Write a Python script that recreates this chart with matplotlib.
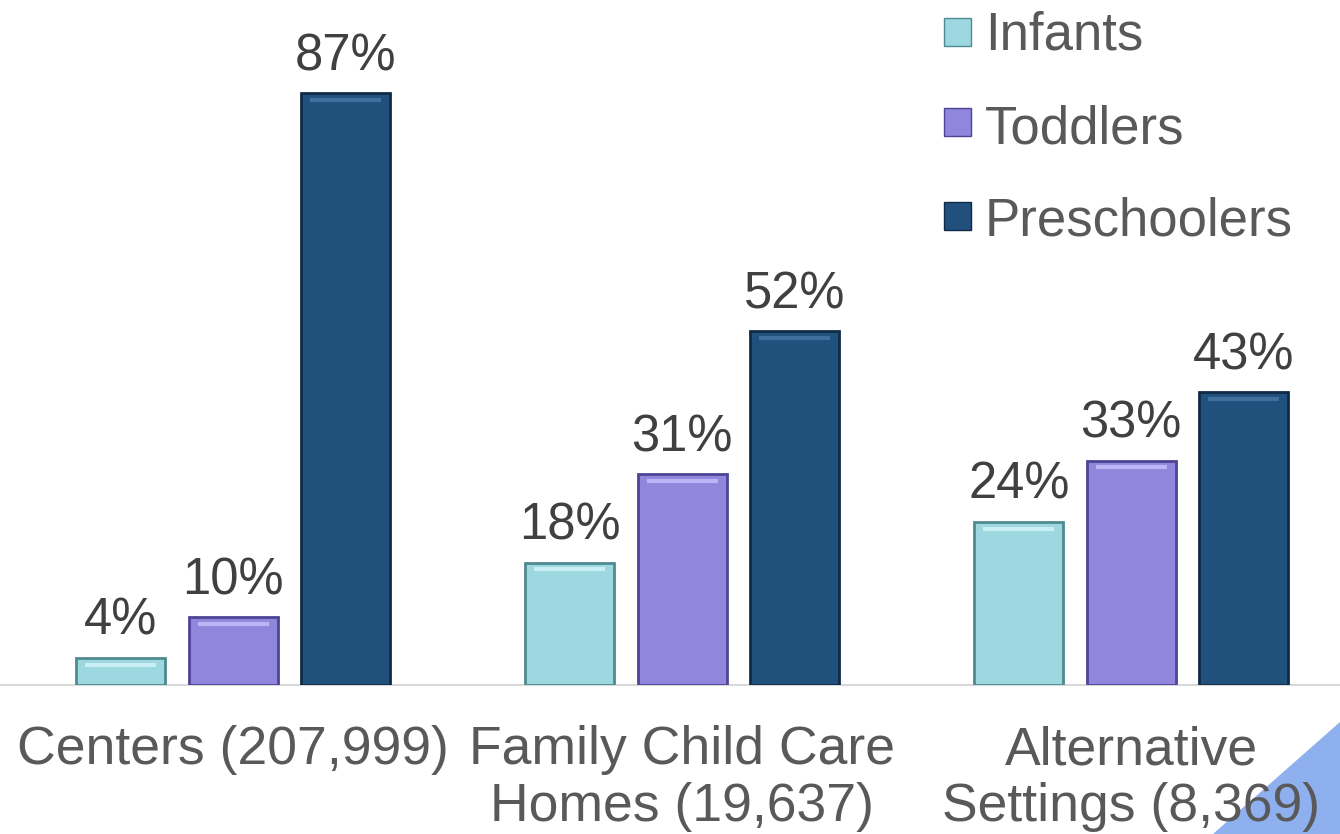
import numpy as np
import matplotlib.pyplot as plt
from matplotlib.patches import Rectangle, Polygon

# donnees
categories = ['Centers (207,999)', 'Family Child Care\nHomes (19,637)', 'Alternative\nSettings (8,369)']
series = ['Infants', 'Toddlers', 'Preschoolers']
infants = [4, 18, 24]
toddlers = [10, 31, 33]
preschoolers = [87, 52, 43]
valeurs = [infants, toddlers, preschoolers]

couleurs = ['#9dd7df', '#9087dd', '#22507c']
bords = ['#4f8a90', '#4d4496', '#0f2b47']
reflets = ['#c9eef3', '#bdb5f5', '#3f6f9c']

plt.rcParams['font.family'] = ['Liberation Sans', 'DejaVu Sans']

fig = plt.figure(figsize=(13.4, 8.34), dpi=100)
ax = fig.add_axes([0, 149 / 834, 1, 685 / 834])
ax.patch.set_visible(False)

x = np.arange(len(categories))
largeur = 0.198
decalage = 0.25

for i, (nom, vals) in enumerate(zip(series, valeurs)):
    pos = x + (i - 1) * decalage
    ax.bar(pos, vals, width=largeur, color=couleurs[i], edgecolor=bords[i],
           linewidth=2.0, label=nom, zorder=3)
    # petit effet de biseau en haut de chaque barre
    for p, v in zip(pos, vals):
        ax.hlines(v - 1.0, p - largeur / 2 + 0.02, p + largeur / 2 - 0.02,
                  color=reflets[i], linewidth=3, zorder=4)
        ax.annotate(f'{v}%', (p, v), xytext=(0, 16.5), textcoords='offset points',
                    ha='center', va='baseline', fontsize=36.5, color='#404040')

ax.set_xlim(-0.519, 2.465)
ax.set_ylim(0, 100.7)

for s in ['top', 'right', 'left']:
    ax.spines[s].set_visible(False)
ax.spines['bottom'].set_color('#d9d9d9')
ax.spines['bottom'].set_linewidth(1.5)
ax.set_yticks([])
ax.set_xticks(x)
ax.set_xticklabels(categories, fontsize=38.5, color='#595959', linespacing=1.16)
ax.tick_params(axis='x', length=0, pad=29)

# legende dessinee a la main
ys = [50, 143, 236]
centres = [32, 122, 216]
for i, nom in enumerate(series):
    fig.patches.append(Rectangle((944 / 1340, 1 - (centres[i] + 13.5) / 834), 27 / 1340, 27 / 834,
                                 transform=fig.transFigure, facecolor=couleurs[i],
                                 edgecolor=bords[i], linewidth=1.0))
    fig.text(985 / 1340, 1 - ys[i] / 834, nom, fontsize=38, color='#595959', va='baseline')

# triangle bleu dans le coin, derriere le texte
fig.patches.append(Polygon([(1, 1 - 722 / 834), (1, 0), (1213 / 1340, 0)], closed=True,
                           transform=fig.transFigure, facecolor='#8fb0ee', edgecolor='none',
                           zorder=-5))

fig.savefig('out.png', dpi=100)
